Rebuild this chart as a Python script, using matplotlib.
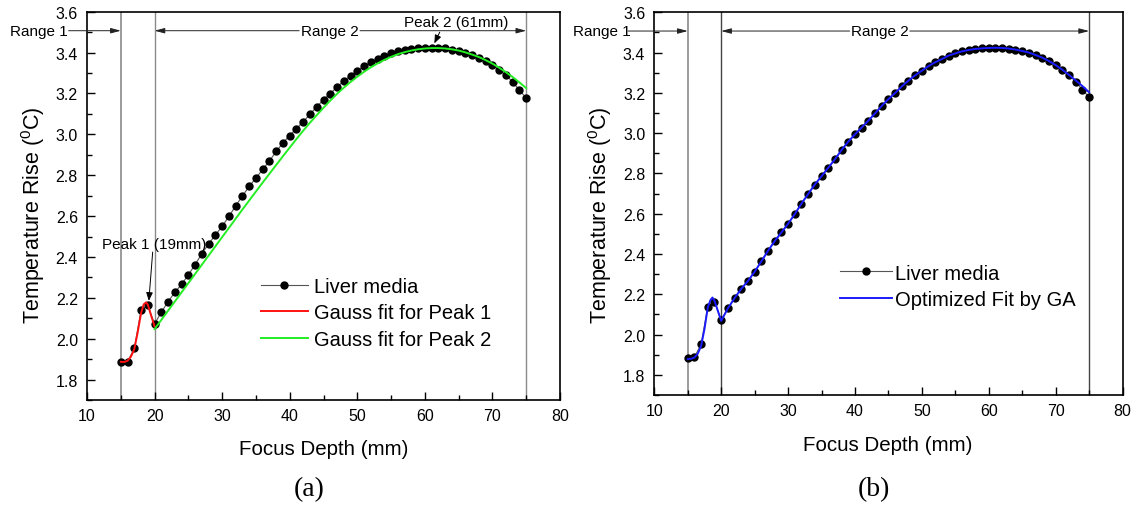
import matplotlib
matplotlib.use('Agg')
import matplotlib.pyplot as plt
from matplotlib.ticker import MultipleLocator, FormatStrFormatter

plt.rcParams['font.family'] = ['Liberation Sans', 'DejaVu Sans']
plt.rcParams['mathtext.fontset'] = 'custom'
plt.rcParams['mathtext.rm'] = 'Liberation Sans'
plt.rcParams['mathtext.it'] = 'Liberation Sans:italic'

# ---------------- data ----------------
depth = list(range(15, 76))
liver = [1.886, 1.888, 1.952, 2.139, 2.164, 2.072, 2.130, 2.181, 2.227, 2.266,
         2.312, 2.363, 2.416, 2.464, 2.507, 2.550, 2.598, 2.650, 2.698, 2.745,
         2.786, 2.828, 2.870, 2.916, 2.958, 2.994, 3.028, 3.062, 3.098, 3.135,
         3.169, 3.199, 3.232, 3.261, 3.287, 3.310, 3.333, 3.352, 3.368, 3.385,
         3.396, 3.406, 3.413, 3.418, 3.421, 3.423, 3.424, 3.423, 3.420, 3.415,
         3.408, 3.400, 3.388, 3.375, 3.358, 3.338, 3.315, 3.289, 3.256, 3.216,
         3.178]

peak1_x = [15, 15.5, 16, 16.5, 17, 17.5, 18, 18.4, 18.75, 19, 19.5, 20]
peak1_fit = [1.887, 1.886, 1.892, 1.912, 1.949, 2.031, 2.125, 2.168, 2.178, 2.166, 2.112, 2.060]

peak2_x = list(range(20, 76))
peak2_fit = [2.047, 2.092, 2.137, 2.182, 2.227, 2.272, 2.317, 2.362, 2.407, 2.452,
             2.497, 2.542, 2.587, 2.632, 2.676, 2.720, 2.764, 2.807, 2.850, 2.893,
             2.935, 2.977, 3.018, 3.057, 3.094, 3.130, 3.165, 3.198, 3.228, 3.256,
             3.282, 3.306, 3.328, 3.347, 3.364, 3.379, 3.392, 3.402, 3.410, 3.416,
             3.420, 3.422, 3.422, 3.420, 3.416, 3.410, 3.401, 3.390, 3.378, 3.363,
             3.346, 3.326, 3.304, 3.280, 3.254, 3.226]

ga_head_x = [15, 15.5, 16, 16.5, 17, 17.5, 18, 18.4, 18.7, 19, 19.5, 20]
ga_head = [1.878, 1.880, 1.886, 1.905, 1.944, 2.027, 2.135, 2.172, 2.184, 2.168, 2.118, 2.068]
ga_tail_x = list(range(21, 76))
ga_tail = liver[6:58] + [3.262, 3.234, 3.203]

range_bounds = [15, 20, 75]
xlim = (10, 80)
ylim = (1.7, 3.6)

W, H = 1144, 506
fig = plt.figure(figsize=(W / 100, H / 100), dpi=100)


def frac(px, py):
    return px / W, 1 - py / H


def ax_rect(l, t, r, b):
    return [l / W, 1 - b / H, (r - l) / W, (b - t) / H]


axA = fig.add_axes(ax_rect(87, 12.7, 560, 401))
axB = fig.add_axes(ax_rect(654.3, 13.3, 1122.5, 396))


def style(ax):
    ax.set_xlim(*xlim)
    ax.set_ylim(*ylim)
    ax.xaxis.set_major_locator(MultipleLocator(10))
    ax.xaxis.set_minor_locator(MultipleLocator(5))
    ax.yaxis.set_major_locator(MultipleLocator(0.2))
    ax.yaxis.set_minor_locator(MultipleLocator(0.1))
    ax.yaxis.set_major_formatter(FormatStrFormatter('%.1f'))
    ax.tick_params(which='both', direction='in', top=False, right=False,
                   width=1.0, color='black')
    ax.tick_params(which='major', length=5.5, labelsize=11.5)
    ax.tick_params(axis='y', which='major', pad=6.5)
    ax.tick_params(axis='x', which='major', pad=5.5)
    ax.tick_params(which='minor', length=3.5)
    for s in ax.spines.values():
        s.set_linewidth(1.2)
        s.set_color('black')


def ranges(ax, y, r1_cx, r1_end, r2_cx, r2_l, r2_r, lcols):
    for xb, c, lw in zip(range_bounds, lcols, [1.2, 1.0, 1.0]):
        ax.axvline(xb, color=c, lw=lw, zorder=1)
    ap = dict(arrowstyle='-|>,head_length=0.6,head_width=0.16', color='#222222',
              lw=0.7, shrinkA=0, shrinkB=0, mutation_scale=10)
    ax.text(r1_cx, y, 'Range 1', ha='center', va='center', fontsize=11, clip_on=False)
    ax.annotate('', xy=(range_bounds[0], y), xytext=(r1_end, y), arrowprops=ap,
                annotation_clip=False)
    ax.text(r2_cx, y, 'Range 2', ha='center', va='center', fontsize=11)
    ax.annotate('', xy=(range_bounds[1], y), xytext=(r2_l, y), arrowprops=ap)
    ax.annotate('', xy=(range_bounds[2], y), xytext=(r2_r, y), arrowprops=ap)


# ---------------- panel (a) ----------------
style(axA)
ranges(axA, 3.507, 2.94, 7.28, 45.9, 41.4, 50.4, ['#8a8a8a', '#8a8a8a', '#8a8a8a'])
axA.plot(depth, liver, color='#555555', lw=0.8, marker='o', ms=5.0,
         mfc='black', mec='black', label='Liver media', zorder=3)
axA.plot(peak1_x, peak1_fit, color='#ff1010', lw=1.4, label='Gauss fit for Peak 1', zorder=4)
axA.plot(peak2_x, peak2_fit, color='#22ee22', lw=1.4, label='Gauss fit for Peak 2', zorder=4)

pap = dict(arrowstyle='-|>,head_length=0.5,head_width=0.2', color='black',
           lw=0.7, shrinkA=0, shrinkB=0, mutation_scale=10)
axA.text(19.9, 2.463, 'Peak 1 (19mm)', ha='center', va='center', fontsize=11, zorder=5)
axA.annotate('', xy=(19.15, 2.185), xytext=(19.72, 2.424), arrowprops=pap, zorder=5)
axA.text(64.6, 3.551, 'Peak 2 (61mm)', ha='center', va='center', fontsize=11)
axA.annotate('', xy=(61.4, 3.445), xytext=(62.2, 3.50), arrowprops=pap)

axA.legend(loc='upper left', bbox_to_anchor=frac(260.7, 278.0),
           bbox_transform=fig.transFigure, frameon=False, fontsize=14.5,
           handlelength=2.33, handletextpad=0.3, labelspacing=0.37,
           borderpad=0, borderaxespad=0)

# ---------------- panel (b) ----------------
style(axB)
ranges(axB, 3.507, 2.18, 6.07, 43.7, 39.2, 48.2, ['#8a8a8a', '#444444', '#444444'])
axB.plot(depth, liver, color='#555555', lw=0.8, marker='o', ms=5.0,
         mfc='black', mec='black', label='Liver media', zorder=3)
axB.plot(ga_head_x + ga_tail_x, ga_head + ga_tail, color='#1a1aff', lw=1.4,
         label='Optimized Fit by GA', zorder=4)
axB.legend(loc='upper left', bbox_to_anchor=frac(840, 264.5),
           bbox_transform=fig.transFigure, frameon=False, fontsize=14.5,
           handlelength=2.6, handletextpad=0.15, labelspacing=0.37,
           borderpad=0, borderaxespad=0)

# ---------------- labels ----------------
ylab = r'Temperature Rise ($^{\mathrm{0}}$C)'
fig.text(*frac(33, 215), ylab, rotation=90, ha='center', va='center', fontsize=15.5)
fig.text(*frac(600, 215), ylab, rotation=90, ha='center', va='center', fontsize=15.5)
fig.text(*frac(323.5, 450), 'Focus Depth (mm)', ha='center', va='center', fontsize=14.8)
fig.text(*frac(888, 446), 'Focus Depth (mm)', ha='center', va='center', fontsize=14.8)
fig.text(*frac(309, 490), '(a)', ha='center', va='center', fontsize=20,
         family=['Liberation Serif', 'DejaVu Serif'])
fig.text(*frac(874, 490), '(b)', ha='center', va='center', fontsize=20,
         family=['Liberation Serif', 'DejaVu Serif'])

fig.savefig('out.png', dpi=100)
